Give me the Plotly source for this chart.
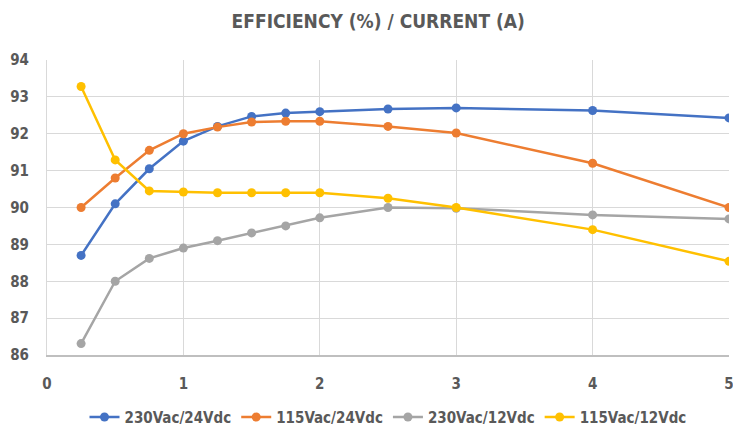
import plotly.graph_objects as go

current = [0.25, 0.5, 0.75, 1, 1.25, 1.5, 1.75, 2, 2.5, 3, 4, 5]
eff_230_24 = [88.7, 90.1, 91.05, 91.8, 92.2, 92.47, 92.56, 92.6, 92.67, 92.7, 92.63, 92.43]
eff_115_24 = [90.0, 90.8, 91.55, 92.0, 92.18, 92.32, 92.34, 92.34, 92.2, 92.02, 91.2, 90.0]
eff_230_12 = [86.31, 88.0, 88.62, 88.9, 89.1, 89.31, 89.5, 89.72, 90.0, 89.98, 89.8, 89.69]
eff_115_12 = [93.28, 91.29, 90.45, 90.42, 90.4, 90.4, 90.4, 90.4, 90.25, 90.0, 89.4, 88.54]

series = [
    ("230Vac/24Vdc", eff_230_24, "#4472C4"),
    ("115Vac/24Vdc", eff_115_24, "#ED7D31"),
    ("230Vac/12Vdc", eff_230_12, "#A5A5A5"),
    ("115Vac/12Vdc", eff_115_12, "#FFC000"),
]

font_family = "DejaVu Sans Condensed, Liberation Sans Narrow, Liberation Sans, sans-serif"

fig = go.Figure()
for name, vals, color in series:
    fig.add_trace(go.Scatter(
        x=current, y=vals, name=f"<b>{name}</b>", mode="lines+markers",
        line=dict(color=color, width=2.5),
        marker=dict(color=color, size=9),
    ))

fig.update_layout(
    width=733, height=428,
    paper_bgcolor="white", plot_bgcolor="white",
    margin=dict(l=47, r=4, t=60, b=73),
    title=dict(text="<b>EFFICIENCY (%) / CURRENT (A)</b>", x=0.516, xanchor="center",
               y=0.949, yanchor="middle",
               font=dict(family=font_family, size=19, color="#595959")),
    font=dict(family=font_family, color="#595959"),
    showlegend=True,
    legend=dict(orientation="h", x=0.5, xanchor="center",
                yref="container", y=0.025, yanchor="middle",
                font=dict(family=font_family, size=15, color="#595959"),
                itemwidth=30, tracegroupgap=0),
)
fig.update_xaxes(
    range=[0, 5], autorange=False, automargin=False,
    tickmode="array", tickvals=[0, 1, 2, 3, 4, 5],
    ticktext=["<b>0</b>", "<b>1</b>", "<b>2</b>", "<b>3</b>", "<b>4</b>", "<b>5</b>"],
    ticklabeloverflow="allow",
    showgrid=True, gridcolor="#D9D9D9", gridwidth=1,
    showline=True, linecolor="#BFBFBF", linewidth=2,
    zeroline=False, ticks="", tickfont=dict(size=15, color="#595959"),
    ticklabelstandoff=14,
)
fig.update_yaxes(
    range=[86, 94], autorange=False, automargin=False,
    tickmode="array", tickvals=list(range(86, 95)),
    ticktext=[f"<b>{v}</b>" for v in range(86, 95)],
    showgrid=True, gridcolor="#D9D9D9", gridwidth=1,
    showline=True, linecolor="#D9D9D9", linewidth=1, mirror=False,
    zeroline=False, ticks="", tickfont=dict(size=15, color="#595959"),
    ticklabelstandoff=14,
)
fig.write_html("out.html", config={"displayModeBar": False},
               post_script="document.body.style.margin='0';document.body.style.overflow='hidden';")
